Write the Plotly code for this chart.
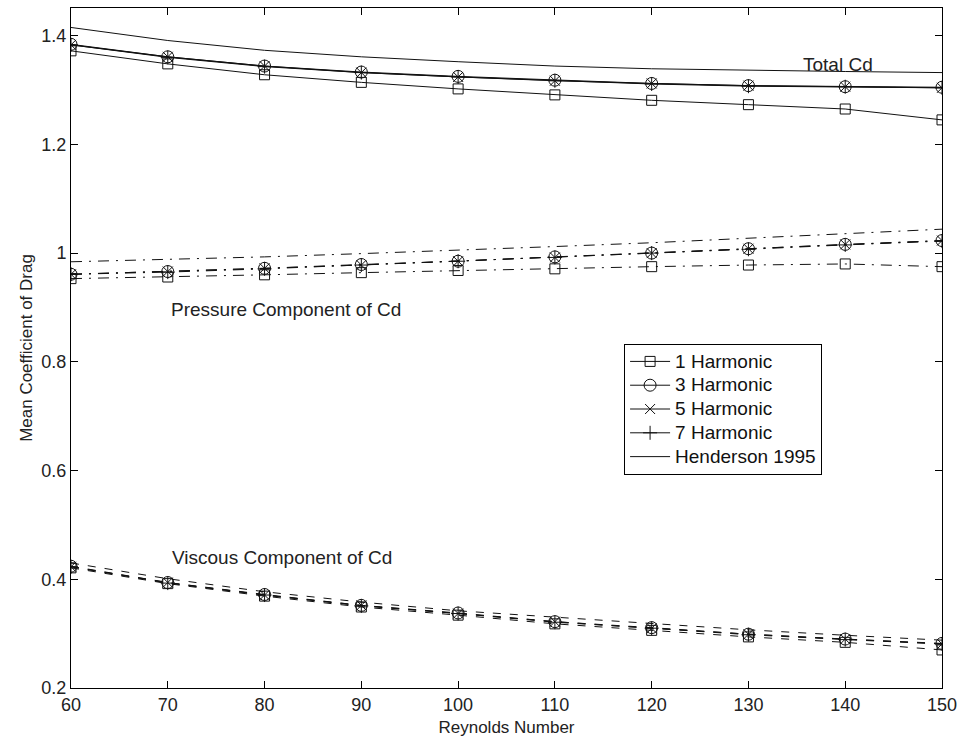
import plotly.graph_objects as go

# ---------------- data ----------------
reynolds = [60, 70, 80, 90, 100, 110, 120, 130, 140, 150]

total_h1 = [1.372, 1.348, 1.328, 1.314, 1.302, 1.291, 1.281, 1.273, 1.265, 1.245]
total_h3 = [1.384, 1.361, 1.344, 1.333, 1.325, 1.318, 1.312, 1.308, 1.306, 1.305]
total_h5 = [1.383, 1.361, 1.344, 1.332, 1.324, 1.317, 1.312, 1.308, 1.306, 1.304]
total_h7 = [1.383, 1.360, 1.343, 1.332, 1.324, 1.317, 1.311, 1.307, 1.306, 1.304]
total_hend = [1.415, 1.391, 1.373, 1.361, 1.352, 1.344, 1.339, 1.336, 1.334, 1.332]

pressure_h1 = [0.953, 0.956, 0.960, 0.964, 0.968, 0.971, 0.975, 0.978, 0.980, 0.975]
pressure_h3 = [0.961, 0.966, 0.972, 0.979, 0.985, 0.993, 1.000, 1.008, 1.016, 1.023]
pressure_h5 = [0.961, 0.966, 0.972, 0.978, 0.985, 0.992, 1.000, 1.008, 1.016, 1.023]
pressure_h7 = [0.961, 0.965, 0.971, 0.978, 0.985, 0.992, 1.000, 1.007, 1.015, 1.022]
pressure_hend = [0.984, 0.988, 0.993, 0.999, 1.005, 1.012, 1.019, 1.027, 1.035, 1.044]

viscous_h1 = [0.421, 0.392, 0.369, 0.349, 0.334, 0.318, 0.306, 0.294, 0.284, 0.270]
viscous_h3 = [0.424, 0.394, 0.372, 0.352, 0.338, 0.322, 0.311, 0.299, 0.290, 0.282]
viscous_h5 = [0.423, 0.394, 0.371, 0.352, 0.337, 0.322, 0.310, 0.299, 0.290, 0.281]
viscous_h7 = [0.423, 0.393, 0.371, 0.351, 0.337, 0.321, 0.310, 0.298, 0.289, 0.281]
viscous_hend = [0.430, 0.401, 0.377, 0.358, 0.342, 0.330, 0.318, 0.307, 0.297, 0.288]

series_names = ["1 Harmonic", "3 Harmonic", "5 Harmonic", "7 Harmonic", "Henderson 1995"]
y_tick_vals = [0.2, 0.4, 0.6, 0.8, 1.0, 1.2, 1.4]
y_tick_text = ["0.2", "0.4", "0.6", "0.8", "1", "1.2", "1.4"]
x_tick_vals = reynolds

# ---------------- styling ----------------
FONT = "Liberation Sans, Arial, Helvetica, sans-serif"
LINE_COLOR = "#111111"
markers = [
    dict(symbol="square-open", size=10),
    dict(symbol="circle-open", size=12),
    dict(symbol="x-thin-open", size=10),
    dict(symbol="cross-thin-open", size=10),
    None,
]
DASH_DOT = "11px,7px,2px,7px"
DASH = "8px,9px"

totals = [total_h1, total_h3, total_h5, total_h7, total_hend]
pressures = [pressure_h1, pressure_h3, pressure_h5, pressure_h7, pressure_hend]
viscous = [viscous_h1, viscous_h3, viscous_h5, viscous_h7, viscous_hend]

fig = go.Figure()

for i, name in enumerate(series_names):
    mk = markers[i]
    mode = "lines+markers" if mk else "lines"
    mdict = None
    if mk:
        mdict = dict(symbol=mk["symbol"], size=mk["size"], color=LINE_COLOR,
                     line=dict(color=LINE_COLOR, width=1))
    label = '<span style="font-size:19px">' + name + '</span>'
    for ys, dash, show in ((totals[i], "solid", True),
                           (pressures[i], DASH_DOT, False),
                           (viscous[i], DASH, False)):
        fig.add_trace(go.Scatter(
            x=reynolds, y=ys, mode=mode, name=label,
            legendgroup=name, showlegend=show,
            line=dict(color=LINE_COLOR, width=1, dash=dash),
            marker=mdict,
        ))

annotations = [
    dict(x=139.3, y=1.346, text="Total Cd"),
    dict(x=82.2, y=0.897, text="Pressure Component of Cd"),
    dict(x=81.8, y=0.440, text="Viscous Component of Cd"),
]
for a in annotations:
    fig.add_annotation(x=a["x"], y=a["y"], text=a["text"], showarrow=False,
                       xanchor="center", yanchor="middle",
                       font=dict(family=FONT, size=19, color="#222222"))

axis_common = dict(
    showline=True, linecolor="black", linewidth=1, mirror="ticks",
    ticks="inside", ticklen=7, tickwidth=1, tickcolor="black",
    showgrid=False, zeroline=False,
    tickfont=dict(family=FONT, size=18, color="#222222"),
)

fig.update_xaxes(range=[60, 150], tickvals=x_tick_vals,
                 title=dict(text="Reynolds Number", standoff=7,
                            font=dict(family=FONT, size=17, color="#222222")),
                 **axis_common)
fig.update_yaxes(range=[0.2, 1.4508], tickvals=y_tick_vals, ticktext=y_tick_text,
                 title=dict(text="Mean Coefficient of Drag", standoff=4,
                            font=dict(family=FONT, size=17, color="#222222")),
                 **axis_common)

fig.update_layout(
    width=964, height=740,
    margin=dict(l=71, r=17, t=7, b=52),
    paper_bgcolor="white", plot_bgcolor="white",
    font=dict(family=FONT, color="#222222"),
    legend=dict(x=0.635, y=0.5066, xanchor="left", yanchor="top",
                bordercolor="black", borderwidth=1, bgcolor="white",
                font=dict(family=FONT, size=16, color="#111111"),
                tracegroupgap=0, itemwidth=40),
)

fig.write_html("out.html")
